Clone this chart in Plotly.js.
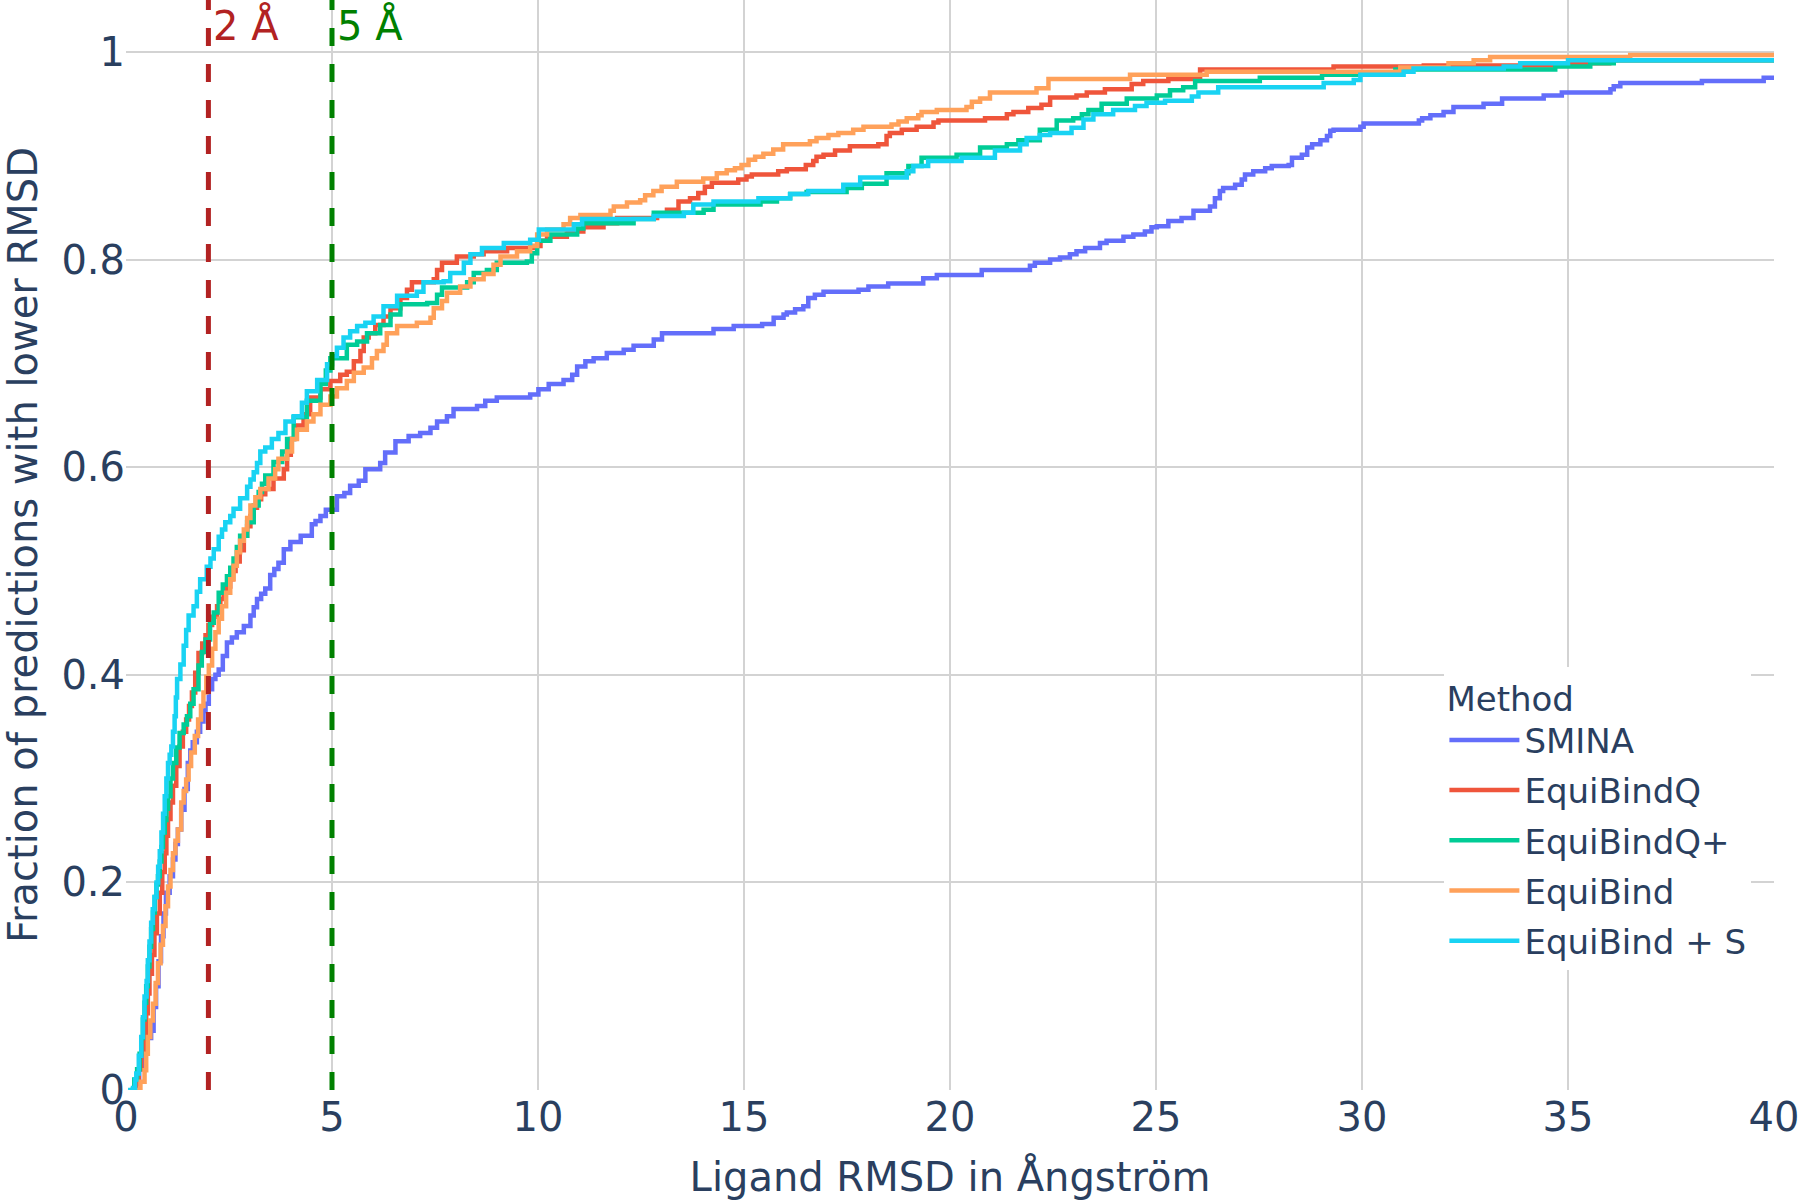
<!DOCTYPE html>
<html>
<head>
<meta charset="utf-8">
<script src="https://cdn.plot.ly/plotly-3.0.1.min.js"></script>
<style>
  html, body { margin: 0; padding: 0; background: #fff; }
  #plot { width: 1800px; height: 1200px; }
</style>
</head>
<body>
<div id="plot"></div>
<script>
// ECDF steps: [ligand RMSD (Å), fraction below]
const methods = ['SMINA', 'EquiBindQ', 'EquiBindQ+', 'EquiBind', 'EquiBind + S'];
const colors = ['#636efa', '#EF553B', '#00cc96', '#FFA15A', '#19d3f3'];

const sminaSteps = [
  [0.15, 0], [0.22, 0.006], [0.32, 0.02], [0.42, 0.039], [0.52, 0.05], [0.61, 0.057], [0.67, 0.08],
  [0.73, 0.1], [0.79, 0.124], [0.85, 0.148], [0.91, 0.17], [0.97, 0.19], [1.06, 0.206], [1.14, 0.222],
  [1.2, 0.237], [1.26, 0.251], [1.34, 0.27], [1.42, 0.29], [1.5, 0.315], [1.56, 0.327], [1.62, 0.335],
  [1.72, 0.345], [1.8, 0.355], [1.88, 0.365], [1.93, 0.372], [2.01, 0.386], [2.09, 0.396], [2.17, 0.4],
  [2.25, 0.405], [2.35, 0.418], [2.45, 0.431], [2.57, 0.436], [2.69, 0.441], [2.86, 0.447], [3.02, 0.457],
  [3.1, 0.465], [3.18, 0.473], [3.28, 0.478], [3.38, 0.483], [3.5, 0.496], [3.6, 0.502], [3.7, 0.508],
  [3.83, 0.521], [3.99, 0.528], [4.24, 0.534], [4.51, 0.545], [4.6, 0.548], [4.72, 0.553], [4.85, 0.559],
  [5.12, 0.572], [5.3, 0.575], [5.44, 0.582], [5.65, 0.587], [5.81, 0.598], [6.17, 0.604], [6.29, 0.614],
  [6.54, 0.625], [6.86, 0.63], [7.14, 0.633], [7.39, 0.638], [7.55, 0.644], [7.79, 0.649], [7.95, 0.656],
  [8.52, 0.659], [8.72, 0.664], [9.0, 0.667], [9.81, 0.67], [10.01, 0.675], [10.26, 0.68], [10.62, 0.684],
  [10.83, 0.689], [10.95, 0.697], [11.15, 0.702], [11.35, 0.705], [11.67, 0.71], [12.08, 0.713],
  [12.32, 0.717], [12.81, 0.723], [13.01, 0.729], [14.26, 0.733], [14.75, 0.736], [15.44, 0.738],
  [15.72, 0.744], [15.96, 0.747], [16.04, 0.749], [16.24, 0.752], [16.44, 0.755], [16.56, 0.763],
  [16.72, 0.766], [16.93, 0.769], [17.78, 0.771], [18.02, 0.774], [18.5, 0.777], [19.35, 0.782],
  [19.68, 0.785], [20.77, 0.79], [21.94, 0.794], [22.06, 0.797], [22.43, 0.8], [22.67, 0.802],
  [22.91, 0.805], [23.07, 0.808], [23.28, 0.811], [23.64, 0.816], [23.8, 0.818], [24.21, 0.822],
  [24.45, 0.824], [24.73, 0.827], [24.89, 0.831], [25.02, 0.832], [25.3, 0.837], [25.62, 0.84],
  [25.91, 0.847], [26.31, 0.851], [26.43, 0.859], [26.55, 0.866], [26.63, 0.869], [26.92, 0.872],
  [27.08, 0.877], [27.16, 0.882], [27.36, 0.885], [27.65, 0.888], [27.81, 0.89], [28.22, 0.891],
  [28.3, 0.898], [28.54, 0.901], [28.67, 0.908], [28.79, 0.911], [28.99, 0.915], [29.15, 0.919],
  [29.23, 0.924], [29.31, 0.925], [29.96, 0.928], [30.04, 0.931], [31.38, 0.934], [31.46, 0.936],
  [31.66, 0.939], [31.98, 0.942], [32.22, 0.947], [32.95, 0.95], [33.4, 0.955], [34.41, 0.958],
  [34.85, 0.961], [36.03, 0.964], [36.11, 0.967], [36.27, 0.97], [38.25, 0.972], [39.75, 0.975], [42, 0.977]
];

const equibindQSteps = [
  [0.12, 0], [0.25, 0.01], [0.31, 0.02], [0.37, 0.035], [0.43, 0.055], [0.49, 0.074], [0.53, 0.093],
  [0.57, 0.112], [0.63, 0.13], [0.69, 0.151], [0.75, 0.17], [0.82, 0.19], [0.88, 0.21], [0.94, 0.228],
  [0.98, 0.245], [1.02, 0.261], [1.08, 0.277], [1.14, 0.293], [1.22, 0.312], [1.3, 0.331], [1.38, 0.345],
  [1.46, 0.357], [1.53, 0.37], [1.6, 0.383], [1.68, 0.402], [1.76, 0.421], [1.85, 0.43], [1.93, 0.438],
  [2.0, 0.448], [2.09, 0.456], [2.21, 0.466], [2.29, 0.473], [2.37, 0.479], [2.45, 0.485], [2.53, 0.492],
  [2.6, 0.5], [2.66, 0.509], [2.76, 0.52], [2.86, 0.534], [2.94, 0.543], [3.02, 0.553], [3.1, 0.561],
  [3.18, 0.569], [3.28, 0.574], [3.38, 0.579], [3.58, 0.589], [3.83, 0.598], [3.91, 0.612], [4.0, 0.627],
  [4.1, 0.64], [4.31, 0.651], [4.47, 0.667], [4.72, 0.675], [4.96, 0.683], [5.2, 0.689], [5.36, 0.692],
  [5.53, 0.702], [5.69, 0.712], [5.77, 0.725], [5.89, 0.729], [6.05, 0.737], [6.25, 0.745], [6.42, 0.753],
  [6.66, 0.763], [6.82, 0.771], [6.94, 0.778], [7.47, 0.781], [7.55, 0.79], [7.67, 0.797], [8.03, 0.803],
  [8.44, 0.805], [8.68, 0.808], [9.25, 0.811], [9.89, 0.813], [10.06, 0.818], [10.22, 0.822], [10.7, 0.827],
  [11.1, 0.831], [11.59, 0.835], [11.92, 0.84], [12.89, 0.843], [13.13, 0.848], [13.41, 0.856],
  [13.69, 0.859], [13.89, 0.864], [14.05, 0.87], [14.22, 0.874], [14.86, 0.877], [15.06, 0.88],
  [15.19, 0.882], [15.83, 0.885], [16.04, 0.887], [16.5, 0.891], [16.68, 0.895], [16.76, 0.899],
  [16.93, 0.901], [17.21, 0.905], [17.57, 0.909], [18.26, 0.911], [18.46, 0.919], [18.54, 0.922],
  [18.83, 0.925], [19.19, 0.928], [19.6, 0.932], [19.72, 0.934], [20.85, 0.936], [21.38, 0.94],
  [21.54, 0.942], [21.9, 0.946], [22.22, 0.949], [22.43, 0.956], [23.07, 0.958], [23.32, 0.961],
  [23.76, 0.964], [24.41, 0.969], [24.69, 0.972], [25.3, 0.974], [26.07, 0.983], [29.31, 0.986],
  [31.5, 0.987], [35.0, 0.989], [36.0, 0.992], [42, 0.992]
];

const equibindQPlusSteps = [
  [0.1, 0], [0.2, 0.01], [0.27, 0.02], [0.33, 0.035], [0.37, 0.05], [0.41, 0.068], [0.45, 0.084],
  [0.49, 0.1], [0.53, 0.119], [0.57, 0.138], [0.61, 0.155], [0.655, 0.171], [0.7, 0.186], [0.74, 0.198],
  [0.776, 0.206], [0.82, 0.22], [0.86, 0.234], [0.897, 0.248], [0.94, 0.26], [0.98, 0.271], [1.02, 0.283],
  [1.08, 0.3], [1.14, 0.315], [1.22, 0.33], [1.3, 0.344], [1.4, 0.352], [1.48, 0.36], [1.56, 0.372],
  [1.64, 0.386], [1.76, 0.409], [1.84, 0.422], [1.93, 0.434], [2.04, 0.45], [2.13, 0.46], [2.25, 0.479],
  [2.35, 0.487], [2.45, 0.495], [2.53, 0.503], [2.61, 0.512], [2.69, 0.523], [2.77, 0.534], [2.94, 0.547],
  [3.1, 0.563], [3.22, 0.576], [3.3, 0.584], [3.38, 0.592], [3.58, 0.605], [3.79, 0.615], [3.91, 0.627],
  [4.07, 0.648], [4.39, 0.664], [4.72, 0.68], [4.85, 0.693], [4.96, 0.705], [5.36, 0.718], [5.61, 0.721],
  [5.85, 0.729], [6.17, 0.737], [6.42, 0.747], [6.66, 0.757], [7.31, 0.758], [7.55, 0.766], [7.67, 0.773],
  [8.28, 0.778], [8.44, 0.787], [8.76, 0.79], [9.0, 0.797], [9.73, 0.798], [9.85, 0.806], [9.98, 0.818],
  [10.3, 0.824], [10.95, 0.83], [11.1, 0.835], [12.32, 0.839], [12.81, 0.845], [14.02, 0.848],
  [14.26, 0.853], [15.4, 0.856], [15.8, 0.859], [16.12, 0.863], [16.52, 0.865], [17.49, 0.869],
  [17.86, 0.873], [18.46, 0.883], [18.99, 0.89], [19.31, 0.898], [20.16, 0.901], [20.73, 0.908],
  [21.38, 0.911], [21.66, 0.915], [22.18, 0.925], [22.59, 0.934], [22.99, 0.936], [23.2, 0.94],
  [23.36, 0.944], [23.68, 0.95], [24.29, 0.955], [25.02, 0.958], [25.34, 0.963], [25.66, 0.966],
  [25.95, 0.972], [27.52, 0.975], [29.03, 0.978], [30.81, 0.983], [34.69, 0.986], [35.54, 0.989],
  [36.11, 0.992], [42, 0.992]
];

const equibindSteps = [
  [0.26, 0], [0.35, 0.008], [0.45, 0.019], [0.49, 0.035], [0.53, 0.051], [0.59, 0.067], [0.655, 0.083],
  [0.72, 0.103], [0.776, 0.122], [0.84, 0.14], [0.897, 0.158], [0.96, 0.177], [1.02, 0.196], [1.08, 0.212],
  [1.14, 0.228], [1.2, 0.24], [1.26, 0.251], [1.34, 0.277], [1.4, 0.288], [1.46, 0.299], [1.52, 0.312],
  [1.58, 0.325], [1.67, 0.341], [1.75, 0.357], [1.82, 0.37], [1.88, 0.383], [1.95, 0.398], [2.01, 0.409],
  [2.09, 0.425], [2.17, 0.441], [2.25, 0.454], [2.33, 0.466], [2.43, 0.479], [2.53, 0.492], [2.61, 0.505],
  [2.69, 0.518], [2.77, 0.529], [2.86, 0.54], [2.94, 0.551], [3.02, 0.563], [3.14, 0.571], [3.26, 0.579],
  [3.46, 0.589], [3.62, 0.598], [3.7, 0.608], [3.91, 0.615], [4.03, 0.627], [4.15, 0.636], [4.39, 0.644],
  [4.55, 0.651], [4.72, 0.66], [4.96, 0.668], [5.12, 0.676], [5.36, 0.683], [5.53, 0.691], [5.77, 0.696],
  [5.97, 0.705], [6.09, 0.712], [6.25, 0.718], [6.33, 0.729], [6.58, 0.736], [7.06, 0.739], [7.39, 0.744],
  [7.47, 0.753], [7.67, 0.76], [7.79, 0.768], [8.11, 0.774], [8.36, 0.781], [8.68, 0.786], [8.92, 0.795],
  [9.09, 0.803], [9.49, 0.808], [9.81, 0.813], [9.98, 0.824], [10.22, 0.829], [10.62, 0.834],
  [10.78, 0.84], [11.03, 0.843], [11.76, 0.847], [11.84, 0.851], [12.16, 0.855], [12.48, 0.857],
  [12.6, 0.862], [12.8, 0.866], [13.0, 0.87], [13.37, 0.875], [14.01, 0.878], [14.34, 0.883],
  [14.58, 0.886], [14.78, 0.888], [14.94, 0.891], [15.11, 0.896], [15.27, 0.899], [15.47, 0.902],
  [15.71, 0.906], [15.95, 0.911], [16.6, 0.914], [16.76, 0.917], [17.05, 0.92], [17.29, 0.922],
  [17.65, 0.925], [17.9, 0.928], [18.58, 0.93], [18.75, 0.933], [18.95, 0.936], [19.23, 0.939],
  [19.31, 0.942], [19.68, 0.944], [20.4, 0.947], [20.53, 0.952], [20.73, 0.955], [20.97, 0.961],
  [22.1, 0.965], [22.39, 0.974], [24.37, 0.978], [26.23, 0.981], [30.93, 0.985], [32.1, 0.989],
  [32.71, 0.992], [33.11, 0.995], [36.51, 0.997], [42, 0.997]
];

const equibindSSteps = [
  [0.05, 0], [0.17, 0.002], [0.22, 0.01], [0.25, 0.016], [0.31, 0.033], [0.37, 0.051], [0.41, 0.07],
  [0.45, 0.09], [0.5, 0.105], [0.53, 0.125], [0.57, 0.143], [0.61, 0.161], [0.65, 0.174], [0.69, 0.186],
  [0.74, 0.2], [0.78, 0.215], [0.82, 0.23], [0.86, 0.248], [0.9, 0.266], [0.94, 0.283], [0.98, 0.3],
  [1.02, 0.315], [1.06, 0.323], [1.1, 0.331], [1.14, 0.345], [1.18, 0.36], [1.21, 0.378], [1.24, 0.396],
  [1.32, 0.41], [1.4, 0.428], [1.46, 0.443], [1.52, 0.457], [1.64, 0.466], [1.72, 0.48], [1.8, 0.492],
  [1.96, 0.504], [2.05, 0.512], [2.13, 0.521], [2.25, 0.533], [2.33, 0.54], [2.41, 0.547], [2.53, 0.553],
  [2.61, 0.56], [2.77, 0.57], [2.94, 0.581], [3.02, 0.588], [3.1, 0.595], [3.18, 0.604], [3.26, 0.615],
  [3.38, 0.619], [3.54, 0.627], [3.7, 0.633], [3.87, 0.644], [4.07, 0.649], [4.27, 0.662], [4.39, 0.673],
  [4.64, 0.684], [4.88, 0.699], [5.0, 0.707], [5.12, 0.715], [5.28, 0.725], [5.44, 0.731], [5.61, 0.736],
  [5.81, 0.739], [6.01, 0.745], [6.25, 0.755], [6.58, 0.765], [7.06, 0.769], [7.22, 0.778], [7.71, 0.779],
  [7.87, 0.787], [8.2, 0.797], [8.36, 0.805], [8.64, 0.811], [9.17, 0.816], [9.81, 0.819], [10.02, 0.829],
  [10.87, 0.834], [11.07, 0.839], [12.81, 0.842], [13.54, 0.845], [13.77, 0.853], [14.26, 0.856],
  [15.35, 0.859], [16.12, 0.863], [16.56, 0.866], [17.41, 0.872], [17.82, 0.879], [18.95, 0.885],
  [19.11, 0.89], [19.47, 0.895], [20.28, 0.898], [21.09, 0.905], [21.7, 0.911], [21.86, 0.917],
  [22.18, 0.92], [22.43, 0.922], [22.95, 0.927], [23.24, 0.935], [23.48, 0.94], [23.96, 0.944],
  [24.49, 0.948], [24.77, 0.951], [25.22, 0.953], [25.87, 0.957], [26.03, 0.961], [26.51, 0.966],
  [29.07, 0.97], [29.8, 0.973], [29.96, 0.978], [31.01, 0.981], [31.25, 0.984], [33.44, 0.986],
  [33.84, 0.989], [35.0, 0.992], [42, 0.992]
];

const allSteps = [sminaSteps, equibindQSteps, equibindQPlusSteps, equibindSteps, equibindSSteps];

// success thresholds drawn as dashed verticals
const thresholds = [2, 5];
const thresholdLabels = ['2 Å', '5 Å'];
const thresholdColors = ['firebrick', 'green'];

const traces = methods.map((name, i) => ({
  x: allSteps[i].map((p) => p[0]),
  y: allSteps[i].map((p) => p[1]),
  type: 'scatter',
  mode: 'lines',
  name: name,
  legendgroup: name,
  line: { color: colors[i], width: 4.5, shape: 'hv' },
  hoverinfo: 'skip',
}));

const layout = {
  width: 1800,
  height: 1200,
  margin: { l: 126, r: 26, t: 0, b: 110 },
  paper_bgcolor: 'white',
  plot_bgcolor: 'white',
  font: { family: 'DejaVu Sans, Verdana, sans-serif', size: 40, color: '#2a3f5f' },
  xaxis: {
    range: [0, 40],
    tick0: 0,
    dtick: 5,
    showgrid: true,
    gridcolor: '#d3d3d3',
    gridwidth: 2,
    zeroline: false,
    showline: false,
    ticks: '',
    title: { text: 'Ligand RMSD in Ångström', font: { size: 40 } },
  },
  yaxis: {
    range: [0, 1.05],
    tick0: 0,
    dtick: 0.2,
    showgrid: true,
    gridcolor: '#d3d3d3',
    gridwidth: 2,
    zeroline: false,
    showline: false,
    ticks: '',
    title: { text: 'Fraction of predictions with lower RMSD', font: { size: 40 } },
  },
  showlegend: true,
  legend: {
    x: 0.8,
    y: 0.388,
    xanchor: 'left',
    yanchor: 'top',
    bgcolor: 'white',
    font: { size: 34 },
    title: { text: 'Method', font: { size: 34 } },
    tracegroupgap: 3,
    itemwidth: 70,
  },
  shapes: thresholds.map((t, i) => ({
    type: 'line',
    xref: 'x',
    yref: 'paper',
    x0: t,
    x1: t,
    y0: 0,
    y1: 1,
    line: { color: thresholdColors[i], width: 5, dash: '18px,18px' },
  })),
  annotations: thresholds.map((t, i) => ({
    x: t,
    y: 1,
    xref: 'x',
    yref: 'paper',
    xanchor: 'left',
    yanchor: 'top',
    xshift: 3,
    showarrow: false,
    text: thresholdLabels[i],
    font: { color: thresholdColors[i], size: 40 },
  })),
};

Plotly.newPlot('plot', traces, layout, { displayModeBar: false, staticPlot: true });
</script>
</body>
</html>
